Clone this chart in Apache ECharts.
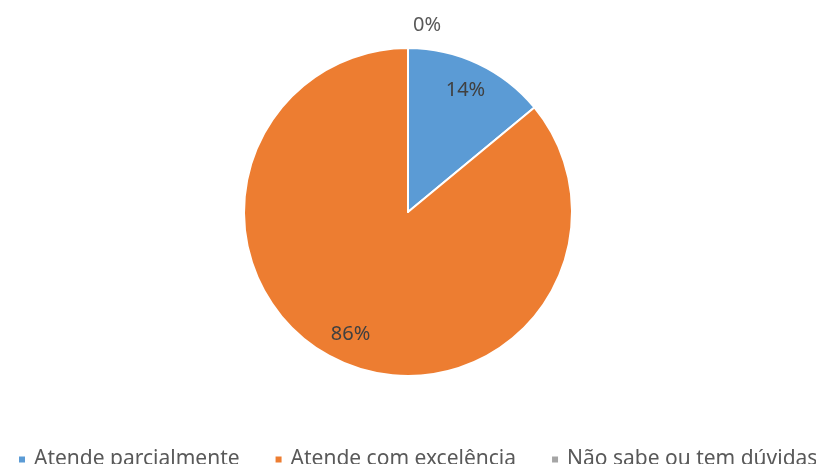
<!DOCTYPE html>
<html><head><meta charset="utf-8">
<script src="https://cdn.jsdelivr.net/npm/echarts@6/dist/echarts.min.js"></script>
<style>html,body{margin:0;padding:0;background:#fff}#c{width:816px;height:464px}</style>
</head><body><div id="c"></div>
<script>
const categories = ['Atende parcialmente', 'Atende com excelência', 'Não sabe ou tem dúvidas'];
const values = [14, 86, 0];
const colors = ['#5B9BD5', '#ED7D31', '#A5A5A5'];

const chart = echarts.init(document.getElementById('c'));
const common = { type: 'pie', center: [408, 212], startAngle: 90, clockwise: true, avoidLabelOverlap: false };
chart.setOption({
  animation: false,
  color: colors,
  legend: {
    data: categories,
    left: 12, top: 444, width: 1200,
    itemWidth: 8, itemHeight: 8, itemGap: 34,
    icon: 'rect',
    textStyle: { fontFamily: 'Noto Sans', fontSize: 21, color: '#595959', padding: [0, 0, 0, 3] }
  },
  series: [
    Object.assign({}, common, {
      name: 'pie',
      radius: 164,
      itemStyle: { borderColor: '#fff', borderWidth: 2 },
      label: { show: false },
      labelLine: { show: false },
      emphasis: { disabled: true },
      data: categories.map((c, i) => ({ name: c, value: values[i] }))
    }),
    Object.assign({}, common, {
      name: 'labels',
      radius: [100, 164],
      silent: true,
      legendHoverLink: false,
      itemStyle: { color: 'rgba(0,0,0,0)', borderWidth: 0 },
      label: {
        show: true, position: 'inside',
        formatter: p => p.value + '%',
        fontFamily: 'Noto Sans', fontSize: 20, color: '#404040'
      },
      labelLine: { show: false },
      data: categories.map((c, i) => {
        const d = { name: c + ' ', value: values[i] };
        if (values[i] === 0) {
          d.label = { position: 'outside', color: '#595959' };
          d.labelLine = { show: false, length: 23, length2: 0 };
        }
        return d;
      })
    })
  ]
});
</script></body></html>
